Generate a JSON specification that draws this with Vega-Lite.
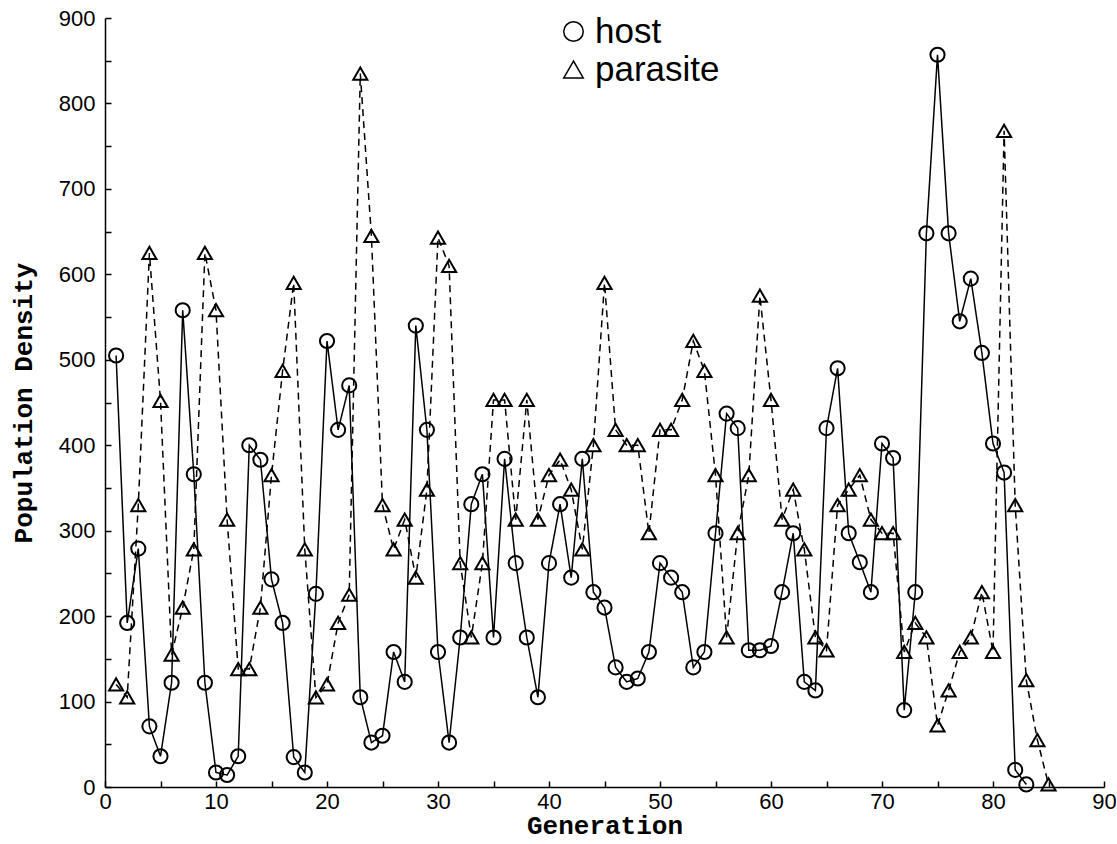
{
  "$schema": "https://vega.github.io/schema/vega-lite/v6.json",
  "autosize": {"type": "none"},
  "padding": {"left": 105, "top": 18, "right": 12, "bottom": 57},
  "width": 999,
  "height": 769,
  "background": "white",
  "config": {"view": {"stroke": null}},
  "datasets": {
    "pop": [
      {"g":1,"v":505,"s":"host"},{"g":2,"v":192,"s":"host"},{"g":3,"v":279,"s":"host"},{"g":4,"v":71,"s":"host"},{"g":5,"v":36,"s":"host"},
      {"g":6,"v":122,"s":"host"},{"g":7,"v":558,"s":"host"},{"g":8,"v":366,"s":"host"},{"g":9,"v":122,"s":"host"},{"g":10,"v":17,"s":"host"},
      {"g":11,"v":14,"s":"host"},{"g":12,"v":36,"s":"host"},{"g":13,"v":400,"s":"host"},{"g":14,"v":383,"s":"host"},{"g":15,"v":243,"s":"host"},
      {"g":16,"v":192,"s":"host"},{"g":17,"v":35,"s":"host"},{"g":18,"v":17,"s":"host"},{"g":19,"v":226,"s":"host"},{"g":20,"v":522,"s":"host"},
      {"g":21,"v":418,"s":"host"},{"g":22,"v":470,"s":"host"},{"g":23,"v":105,"s":"host"},{"g":24,"v":52,"s":"host"},{"g":25,"v":60,"s":"host"},
      {"g":26,"v":158,"s":"host"},{"g":27,"v":123,"s":"host"},{"g":28,"v":540,"s":"host"},{"g":29,"v":418,"s":"host"},{"g":30,"v":158,"s":"host"},
      {"g":31,"v":52,"s":"host"},{"g":32,"v":175,"s":"host"},{"g":33,"v":331,"s":"host"},{"g":34,"v":366,"s":"host"},{"g":35,"v":175,"s":"host"},
      {"g":36,"v":384,"s":"host"},{"g":37,"v":262,"s":"host"},{"g":38,"v":175,"s":"host"},{"g":39,"v":105,"s":"host"},{"g":40,"v":262,"s":"host"},
      {"g":41,"v":331,"s":"host"},{"g":42,"v":245,"s":"host"},{"g":43,"v":384,"s":"host"},{"g":44,"v":228,"s":"host"},{"g":45,"v":210,"s":"host"},
      {"g":46,"v":140,"s":"host"},{"g":47,"v":123,"s":"host"},{"g":48,"v":127,"s":"host"},{"g":49,"v":158,"s":"host"},{"g":50,"v":262,"s":"host"},
      {"g":51,"v":245,"s":"host"},{"g":52,"v":228,"s":"host"},{"g":53,"v":140,"s":"host"},{"g":54,"v":158,"s":"host"},{"g":55,"v":297,"s":"host"},
      {"g":56,"v":437,"s":"host"},{"g":57,"v":420,"s":"host"},{"g":58,"v":160,"s":"host"},{"g":59,"v":160,"s":"host"},{"g":60,"v":165,"s":"host"},
      {"g":61,"v":228,"s":"host"},{"g":62,"v":297,"s":"host"},{"g":63,"v":123,"s":"host"},{"g":64,"v":113,"s":"host"},{"g":65,"v":420,"s":"host"},
      {"g":66,"v":490,"s":"host"},{"g":67,"v":297,"s":"host"},{"g":68,"v":263,"s":"host"},{"g":69,"v":228,"s":"host"},{"g":70,"v":402,"s":"host"},
      {"g":71,"v":385,"s":"host"},{"g":72,"v":90,"s":"host"},{"g":73,"v":228,"s":"host"},{"g":74,"v":648,"s":"host"},{"g":75,"v":857,"s":"host"},
      {"g":76,"v":648,"s":"host"},{"g":77,"v":545,"s":"host"},{"g":78,"v":595,"s":"host"},{"g":79,"v":508,"s":"host"},{"g":80,"v":402,"s":"host"},
      {"g":81,"v":368,"s":"host"},{"g":82,"v":20,"s":"host"},{"g":83,"v":3,"s":"host"},
      {"g":1,"v":120,"s":"parasite"},{"g":2,"v":105,"s":"parasite"},{"g":3,"v":330,"s":"parasite"},{"g":4,"v":625,"s":"parasite"},{"g":5,"v":452,"s":"parasite"},
      {"g":6,"v":155,"s":"parasite"},{"g":7,"v":210,"s":"parasite"},{"g":8,"v":278,"s":"parasite"},{"g":9,"v":625,"s":"parasite"},{"g":10,"v":558,"s":"parasite"},
      {"g":11,"v":313,"s":"parasite"},{"g":12,"v":138,"s":"parasite"},{"g":13,"v":138,"s":"parasite"},{"g":14,"v":210,"s":"parasite"},{"g":15,"v":365,"s":"parasite"},
      {"g":16,"v":487,"s":"parasite"},{"g":17,"v":590,"s":"parasite"},{"g":18,"v":278,"s":"parasite"},{"g":19,"v":105,"s":"parasite"},{"g":20,"v":120,"s":"parasite"},
      {"g":21,"v":192,"s":"parasite"},{"g":22,"v":225,"s":"parasite"},{"g":23,"v":835,"s":"parasite"},{"g":24,"v":645,"s":"parasite"},{"g":25,"v":330,"s":"parasite"},
      {"g":26,"v":278,"s":"parasite"},{"g":27,"v":313,"s":"parasite"},{"g":28,"v":245,"s":"parasite"},{"g":29,"v":348,"s":"parasite"},{"g":30,"v":643,"s":"parasite"},
      {"g":31,"v":610,"s":"parasite"},{"g":32,"v":262,"s":"parasite"},{"g":33,"v":175,"s":"parasite"},{"g":34,"v":262,"s":"parasite"},{"g":35,"v":453,"s":"parasite"},
      {"g":36,"v":453,"s":"parasite"},{"g":37,"v":313,"s":"parasite"},{"g":38,"v":453,"s":"parasite"},{"g":39,"v":313,"s":"parasite"},{"g":40,"v":365,"s":"parasite"},
      {"g":41,"v":383,"s":"parasite"},{"g":42,"v":348,"s":"parasite"},{"g":43,"v":278,"s":"parasite"},{"g":44,"v":400,"s":"parasite"},{"g":45,"v":590,"s":"parasite"},
      {"g":46,"v":418,"s":"parasite"},{"g":47,"v":400,"s":"parasite"},{"g":48,"v":400,"s":"parasite"},{"g":49,"v":297,"s":"parasite"},{"g":50,"v":418,"s":"parasite"},
      {"g":51,"v":418,"s":"parasite"},{"g":52,"v":453,"s":"parasite"},{"g":53,"v":522,"s":"parasite"},{"g":54,"v":487,"s":"parasite"},{"g":55,"v":365,"s":"parasite"},
      {"g":56,"v":175,"s":"parasite"},{"g":57,"v":297,"s":"parasite"},{"g":58,"v":365,"s":"parasite"},{"g":59,"v":575,"s":"parasite"},{"g":60,"v":453,"s":"parasite"},
      {"g":61,"v":313,"s":"parasite"},{"g":62,"v":348,"s":"parasite"},{"g":63,"v":278,"s":"parasite"},{"g":64,"v":175,"s":"parasite"},{"g":65,"v":160,"s":"parasite"},
      {"g":66,"v":330,"s":"parasite"},{"g":67,"v":348,"s":"parasite"},{"g":68,"v":365,"s":"parasite"},{"g":69,"v":313,"s":"parasite"},{"g":70,"v":297,"s":"parasite"},
      {"g":71,"v":297,"s":"parasite"},{"g":72,"v":158,"s":"parasite"},{"g":73,"v":192,"s":"parasite"},{"g":74,"v":175,"s":"parasite"},{"g":75,"v":72,"s":"parasite"},
      {"g":76,"v":113,"s":"parasite"},{"g":77,"v":158,"s":"parasite"},{"g":78,"v":175,"s":"parasite"},{"g":79,"v":228,"s":"parasite"},{"g":80,"v":158,"s":"parasite"},
      {"g":81,"v":768,"s":"parasite"},{"g":82,"v":330,"s":"parasite"},{"g":83,"v":125,"s":"parasite"},{"g":84,"v":55,"s":"parasite"},{"g":85,"v":3,"s":"parasite"}
    ]
  },
  "data": {"name": "pop"},
  "encoding": {
    "x": {
      "field": "g", "type": "quantitative",
      "scale": {"domain": [0, 90], "nice": false, "zero": false},
      "axis": {
        "title": "Generation",
        "values": [0,5,10,15,20,25,30,35,40,45,50,55,60,65,70,75,80,85,90],
        "labelExpr": "datum.value % 10 == 0 ? datum.label : ''",
        "grid": false,
        "domainColor": "black", "domainWidth": 1.5,
        "tickColor": "black", "tickWidth": 1.5, "tickSize": -6,
        "labelFont": "Liberation Sans", "labelFontSize": 22, "labelColor": "black",
        "labelPadding": 10, "labelFlush": false, "labelOverlap": false,
        "titleFont": "Liberation Mono", "titleFontWeight": "bold", "titleFontSize": 26,
        "titleColor": "black", "titlePadding": 0
      }
    },
    "y": {
      "field": "v", "type": "quantitative",
      "scale": {"domain": [0, 900], "nice": false},
      "axis": {
        "title": "Population Density",
        "values": [0,50,100,150,200,250,300,350,400,450,500,550,600,650,700,750,800,850,900],
        "labelExpr": "datum.value % 100 == 0 ? datum.label : ''",
        "grid": false,
        "domainColor": "black", "domainWidth": 1.5,
        "tickColor": "black", "tickWidth": 1.5, "tickSize": -6,
        "labelFont": "Liberation Sans", "labelFontSize": 22, "labelColor": "black",
        "labelPadding": 16, "labelFlush": false, "labelOverlap": false,
        "titleFont": "Liberation Mono", "titleFontWeight": "bold", "titleFontSize": 26,
        "titleColor": "black", "titlePadding": 22
      }
    }
  },
  "layer": [
    {
      "mark": {"type": "line", "color": "black", "strokeWidth": 1.5},
      "encoding": {
        "detail": {"field": "s"},
        "strokeDash": {
          "field": "s", "type": "nominal",
          "scale": {"domain": ["host", "parasite"], "range": [[1, 0], [7, 5]]},
          "legend": null
        }
      }
    },
    {
      "mark": {"type": "point", "filled": false, "color": "black", "strokeWidth": 2, "size": 200, "opacity": 1},
      "encoding": {
        "shape": {
          "field": "s", "type": "nominal",
          "scale": {"domain": ["host", "parasite"], "range": ["circle", "triangle-up"]},
          "legend": {
            "title": null,
            "orient": "none",
            "legendX": 451,
            "legendY": -4,
            "direction": "vertical",
            "symbolSize": 380,
            "symbolStrokeColor": "black",
            "symbolStrokeWidth": 1.5,
            "symbolFillColor": "transparent",
            "labelFont": "Liberation Sans",
            "labelFontSize": 35,
            "labelColor": "black",
            "labelOffset": 4,
            "rowPadding": 2
          }
        }
      }
    }
  ],
  "resolve": {"legend": {"shape": "independent", "strokeDash": "independent"}}
}
